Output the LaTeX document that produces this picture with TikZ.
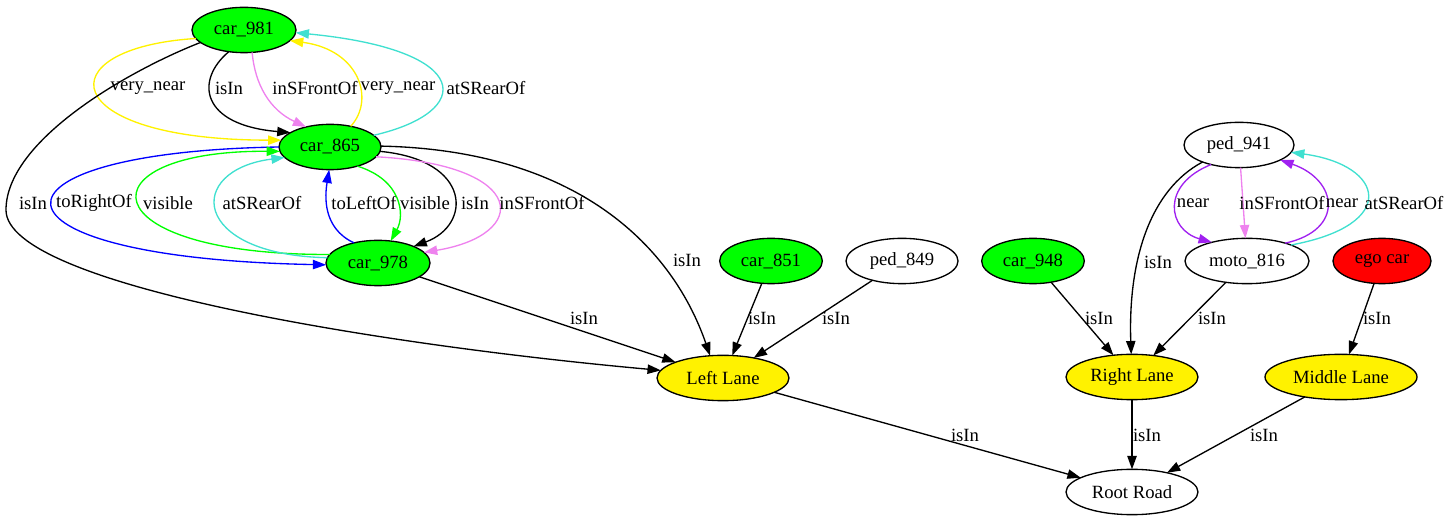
\documentclass[tikz,border=0pt]{standalone}
\usepackage{fontspec}
\setmainfont{Liberation Serif}
\usetikzlibrary{shapes.geometric,arrows.meta}
\definecolor{turq}{HTML}{40E0D0}
\definecolor{viol}{HTML}{EE82EE}
\definecolor{purp}{HTML}{A020F0}
\tikzset{
  obj/.style={ellipse, draw, line width=1pt, inner sep=0pt, outer sep=0pt,
    minimum height=34pt, font=\fontsize{14}{16}\selectfont},
  rel/.style={line width=1pt, -{Triangle[length=10pt,width=7pt]}},
  lbl/.style={inner sep=0pt, text=black, font=\fontsize{14}{16}\selectfont}
}
\begin{document}
\begin{tikzpicture}[x=0.75pt, y=-0.75pt]
    \useasboundingbox (0,0) rectangle (1449,523);
    % oggetti della scena
    \node[obj, fill=green, minimum width=78pt] (c981) at (244,30) {car\_981};
    \node[obj, fill=green, minimum width=76.5pt] (c865) at (330,147) {car\_865};
    \node[obj, fill=green, minimum width=78pt] (c978) at (378,263) {car\_978};
    \node[obj, fill=green, minimum width=77pt] (c851) at (771,261) {car\_851};
    \node[obj, fill=white, minimum width=84pt] (p849) at (902,261) {ped\_849};
    \node[obj, fill=green, minimum width=77pt] (c948) at (1033,261) {car\_948};
    \node[obj, fill=white, minimum width=82.5pt] (p941) at (1239,145) {ped\_941};
    \node[obj, fill=white, minimum width=93pt] (m816) at (1247,261) {moto\_816};
    \node[obj, fill=red, minimum width=73.5pt] (ego) at (1382,261) {ego car};
    % corsie e strada
    \node[obj, fill=yellow, minimum width=99pt] (lleft) at (723,378) {Left Lane};
    \node[obj, fill=yellow, minimum width=99pt] (lright) at (1132,377) {Right Lane};
    \node[obj, fill=yellow, minimum width=114pt] (lmid) at (1341,377) {Middle Lane};
    \node[obj, fill=white, minimum width=99pt] (root) at (1132,492) {Root Road};
    % car_981 <-> car_865
    \draw[rel, yellow] (c981.190) .. controls (45,48) and (55,140) .. (c865.172) node[lbl] (t1) at (148,88) {very\_near};
    \draw[rel] (c981.235) .. controls (195,80) and (200,125) .. (c865.160) node[lbl] (t2) at (229,88) {isIn};
    \draw[rel, viol] (c981.290) .. controls (255,85) and (270,110) .. (c865.140) node[lbl] (t3) at (315,88) {inSFrontOf};
    \draw[rel, yellow] (c865.45) .. controls (375,100) and (360,50) .. (c981.347) node[lbl] (t4) at (398,88) {very\_near};
    \draw[rel, turq] (c865.15) .. controls (475,112) and (475,50) .. (c981.357) node[lbl] (t5) at (486,88) {atSRearOf};
    % car_865 <-> car_978
    \draw[rel, blue] (c865.180) .. controls (-30,152) and (-32,258) .. (c978.182) node[lbl] (t6) at (94,203) {toRightOf};
    \draw[rel, green] (c978.170) .. controls (85,255) and (81,150) .. (c865.185) node[lbl] (t7) at (168,203) {visible};
    \draw[rel, turq] (c978.174) .. controls (190,255) and (185,170) .. (c865.193) node[lbl] (t8) at (262,203) {atSRearOf};
    \draw[rel, blue] (c978.140) .. controls (322,228) and (325,195) .. (c865.268) node[lbl] (t9) at (364,203) {toLeftOf};
    \draw[rel, green] (c865.325) .. controls (402,180) and (405,215) .. (c978.60) node[lbl] (t10) at (425,203) {visible};
    \draw[rel] (c865.355) .. controls (472,160) and (472,225) .. (c978.25) node[lbl] (t11) at (475,203) {isIn};
    \draw[rel, viol] (c865.348) .. controls (530,165) and (530,235) .. (c978.13) node[lbl] (t12) at (542,203) {inSFrontOf};
    % verso Left Lane
    \draw[rel] (c981.196) .. controls (130,70) and (6,140) .. (6,210) .. controls (6,285) and (380,345) .. (lleft.173) node[lbl] (t13) at (33,203) {isIn};
    \draw[rel] (c865.1) .. controls (570,150) and (670,240) .. (lleft.120) node[lbl] (t14) at (687,260) {isIn};
    \draw[rel] (c978) -- (lleft) node[lbl] (t15) at (584,318) {isIn};
    \draw[rel] (c851) -- (lleft) node[lbl] (t16) at (762,318) {isIn};
    \draw[rel] (p849) -- (lleft) node[lbl] (t17) at (836,318) {isIn};
    % ped_941 <-> moto_816 e Right Lane
    \draw[rel] (c948) -- (lright) node[lbl] (t19) at (1099,318) {isIn};
    \draw[rel] (m816) -- (lright) node[lbl] (t20) at (1212,318) {isIn};
    \draw[rel] (p941.205) .. controls (1150,190) and (1128,260) .. (lright.92) node[lbl] (t21) at (1158,262) {isIn};
    \draw[rel, purp] (p941.215) .. controls (1160,185) and (1168,230) .. (m816.152) node[lbl] (t22) at (1193,203) {near};
    \draw[rel, viol] (p941) -- (m816) node[lbl] (t23) at (1282,203) {inSFrontOf};
    \draw[rel, purp] (m816.25) .. controls (1345,230) and (1338,180) .. (p941.340) node[lbl] (t24) at (1342,203) {near};
    \draw[rel, turq] (m816.20) .. controls (1400,225) and (1385,165) .. (p941.352) node[lbl] (t25) at (1404,203) {atSRearOf};
    \draw[rel] (ego) -- (lmid) node[lbl] (t26) at (1377,318) {isIn};
    % verso Root Road
    \draw[rel] (lleft) -- (root) node[lbl] (t18) at (965,435) {isIn};
    \draw[rel] (lright) -- (root) node[lbl] (t27) at (1147,435) {isIn};
    \draw[rel] (lmid) -- (root) node[lbl] (t28) at (1264,435) {isIn};
\end{tikzpicture}
\end{document}
